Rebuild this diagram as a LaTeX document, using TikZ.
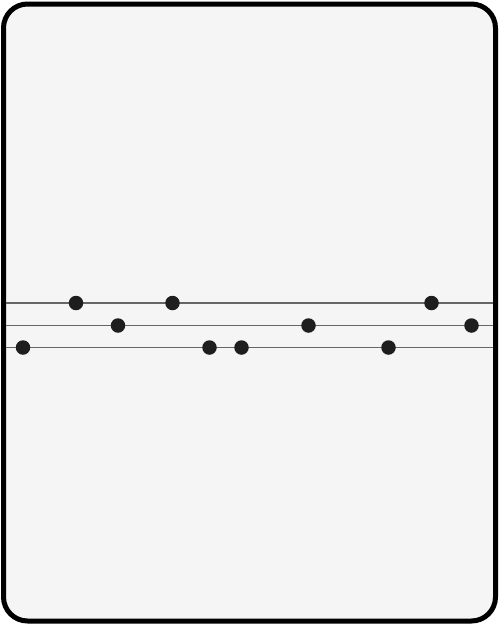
\documentclass[tikz,border=0pt]{standalone}
\usetikzlibrary{positioning}

\definecolor{paper}{HTML}{F5F5F5}
\definecolor{wire}{HTML}{666666}
\definecolor{bead}{HTML}{1E1E1E}

\begin{document}
\begin{tikzpicture}[
    x=1pt, y=-1pt,
    frame/.style={draw=black, line width=5pt, rounded corners=24pt, fill=paper},
    wireline/.style={draw=wire, line width=1.8pt},
    bead/.style={circle, fill=bead, inner sep=0pt, minimum size=14.5pt}
  ]
    \useasboundingbox (0,0) rectangle (503,625);
    \draw[frame] (3.5,4) rectangle (495.5,621);
    % three wires
    \foreach \n/\y in {1/303, 2/325.5, 3/347.5} {
      \coordinate (w\n l) at (6,\y);
      \coordinate (w\n r) at (493,\y);
      \draw[wireline] (w\n l) -- (w\n r);
    }
    % beads on the wires
    \foreach \name/\x/\n in {a/76/1, b/172.5/1, c/431.5/1,
                             d/118/2, e/308.5/2, f/471.5/2,
                             g/23/3, h/209.5/3, i/241.5/3, j/388.5/3} {
      \node[bead] (\name) at (\x,0 |- w\n l) {};
    }
  \end{tikzpicture}
\end{document}
